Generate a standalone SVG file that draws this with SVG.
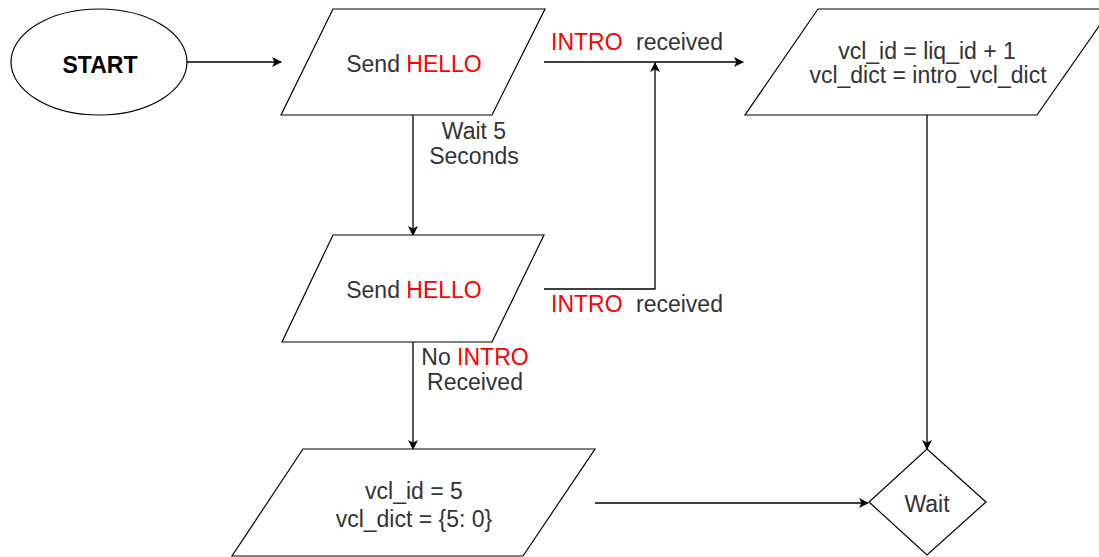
<svg xmlns="http://www.w3.org/2000/svg" width="1099" height="557" viewBox="0 0 1099 557">
<style>
.shape{fill:#fff;stroke:#000;stroke-width:1.2}
.edge{fill:none;stroke:#000;stroke-width:1.3}
text{font-family:"Liberation Sans",Arial,sans-serif;font-size:23px;fill:#333;text-anchor:middle}
.red{fill:#ff0000}
.bold{font-weight:bold;fill:#000}
.left{text-anchor:start}
</style>
<defs>
<marker id="arr" viewBox="0 0 10 10" refX="9" refY="5" markerWidth="10" markerHeight="10" markerUnits="userSpaceOnUse" orient="auto">
<path d="M0,0 L10,5 L0,10 L2.5,5 Z" fill="#000"/>
</marker>
</defs>
<rect width="1099" height="557" fill="#fff"/>
<g id="connectors">
<path class="edge" d="M187,62 H281" marker-end="url(#arr)"/>
<path class="edge" d="M544,62 H743" marker-end="url(#arr)"/>
<path class="edge" d="M413,115 V235" marker-end="url(#arr)"/>
<path class="edge" d="M544,289 H655 V63" marker-end="url(#arr)"/>
<path class="edge" d="M413,342 V449" marker-end="url(#arr)"/>
<path class="edge" d="M927,115 V449" marker-end="url(#arr)"/>
<path class="edge" d="M595,503 H868" marker-end="url(#arr)"/>
<text x="474" y="139">Wait 5</text>
<text x="474" y="164">Seconds</text>
<text class="left" x="551" y="50"><tspan class="red">INTRO</tspan><tspan x="636">received</tspan></text>
<text class="left" x="551" y="312"><tspan class="red">INTRO</tspan><tspan x="636">received</tspan></text>
<text x="475" y="365">No <tspan class="red">INTRO</tspan></text>
<text x="475" y="390">Received</text>
</g>
<g id="start">
<ellipse class="shape" cx="99" cy="62" rx="88" ry="53"/>
<text class="bold" x="100" y="73">START</text>
</g>
<g id="send1">
<polygon class="shape" points="333,9 545,9 492,115 281,115"/>
<text x="414" y="72">Send <tspan class="red">HELLO</tspan></text>
</g>
<g id="send2">
<polygon class="shape" points="333,235 544,235 492,342 282,342"/>
<text x="414" y="298">Send <tspan class="red">HELLO</tspan></text>
</g>
<g id="intro">
<polygon class="shape" points="818,9 1111,9 1037,115 745,115"/>
<text x="927" y="59">vcl_id = liq_id + 1</text>
<text x="928" y="83">vcl_dict = intro_vcl_dict</text>
</g>
<g id="default">
<polygon class="shape" points="303,449 595,449 523,556 232,556"/>
<text x="414" y="499">vcl_id = 5</text>
<text x="414" y="527">vcl_dict = {5: 0}</text>
</g>
<g id="wait">
<polygon class="shape" points="927,449 986,502 927,555 869,502"/>
<text x="927" y="512">Wait</text>
</g>
</svg>
